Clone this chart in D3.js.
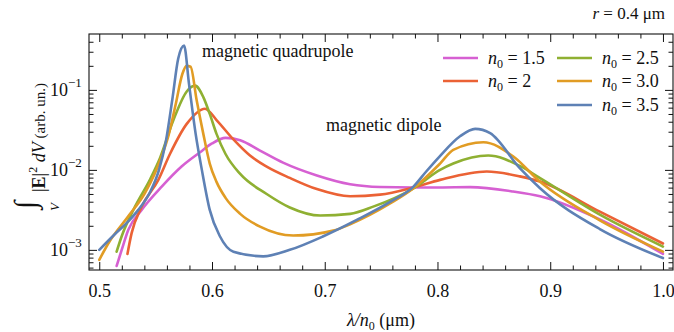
<!DOCTYPE html>
<html>
<head>
<meta charset="utf-8">
<script src="https://cdn.jsdelivr.net/npm/d3@7/dist/d3.min.js"></script>
<style>
  body { margin: 0; background: #fff; }
  text { font-family: "Liberation Serif", "Times New Roman", serif; fill: #111; }
</style>
</head>
<body>
<svg id="chart" width="674" height="332"></svg>
<script>
// values (lambda/n0 in um, integral in arb. units)
var lam15 = [0.5154, 0.5199, 0.5258, 0.5376, 0.5554, 0.573, 0.5894, 0.600, 0.612, 0.625, 0.6426, 0.663, 0.693, 0.7225, 0.749, 0.7787, 0.8023, 0.829, 0.867, 0.891, 0.944, 1.0];
var val15 = [0.00063, 0.0010, 0.00178, 0.00316, 0.00617, 0.011, 0.0166, 0.0214, 0.0251, 0.0234, 0.0174, 0.0123, 0.0085, 0.0066, 0.0061, 0.00603, 0.00603, 0.00608, 0.00537, 0.00468, 0.0024, 0.00089];

var lam20 = [0.525, 0.5287, 0.5376, 0.5524, 0.5627, 0.5776, 0.5938, 0.6042, 0.619, 0.6337, 0.6485, 0.669, 0.693, 0.7225, 0.749, 0.7787, 0.8023, 0.8437, 0.873, 0.891, 0.944, 1.0];
var val20 = [0.00089, 0.00162, 0.00347, 0.0075, 0.0158, 0.0376, 0.0582, 0.0417, 0.024, 0.0151, 0.011, 0.00794, 0.00575, 0.00468, 0.0049, 0.00603, 0.0075, 0.00955, 0.0083, 0.00715, 0.0030, 0.0012];

var lam25 = [0.5154, 0.5199, 0.5317, 0.545, 0.5539, 0.5657, 0.5776, 0.585, 0.5923, 0.598, 0.604, 0.612, 0.625, 0.6485, 0.669, 0.696, 0.7225, 0.743, 0.7787, 0.8023, 0.814, 0.845, 0.873, 0.891, 0.944, 1.0];
var val25 = [0.00095, 0.00148, 0.00347, 0.00759, 0.0141, 0.0417, 0.0955, 0.113, 0.0813, 0.0501, 0.0282, 0.0158, 0.0089, 0.0050, 0.00339, 0.00269, 0.00282, 0.00347, 0.00589, 0.0100, 0.0120, 0.0151, 0.0112, 0.0079, 0.00275, 0.0011];

var lam30 = [0.5, 0.508, 0.5257, 0.5405, 0.5554, 0.5618, 0.5678, 0.5737, 0.5775, 0.581, 0.5864, 0.5923, 0.598, 0.604, 0.612, 0.625, 0.6426, 0.672, 0.7076, 0.7225, 0.758, 0.7787, 0.8023, 0.814, 0.8407, 0.867, 0.891, 0.944, 1.0];
var val30 = [0.00075, 0.0012, 0.00263, 0.00513, 0.0148, 0.0282, 0.0661, 0.158, 0.20, 0.195, 0.0741, 0.0282, 0.012, 0.00708, 0.00447, 0.00282, 0.00195, 0.00151, 0.00174, 0.00209, 0.0038, 0.00589, 0.0120, 0.0178, 0.0222, 0.0148, 0.0071, 0.00234, 0.00095];

var lam35 = [0.5, 0.514, 0.526, 0.5346, 0.545, 0.553, 0.559, 0.5648, 0.570, 0.5752, 0.5796, 0.5855, 0.591, 0.598, 0.607, 0.619, 0.6454, 0.669, 0.6988, 0.7284, 0.758, 0.7787, 0.79, 0.802, 0.82, 0.8334, 0.8467, 0.873, 0.891, 0.944, 1.0];
var val35 = [0.0010, 0.00158, 0.00229, 0.00316, 0.00525, 0.0100, 0.0224, 0.0759, 0.245, 0.358, 0.119, 0.0282, 0.0100, 0.00316, 0.00148, 0.00095, 0.00083, 0.0010, 0.00148, 0.00237, 0.00398, 0.00617, 0.00955, 0.0148, 0.0263, 0.0326, 0.0288, 0.0105, 0.00589, 0.00182, 0.00079];

var seriesNames = ["1.5", "2", "2.5", "3.0", "3.5"];
var seriesColors = ["#d660d2", "#eb6235", "#8fb032", "#e19c24", "#5e81b5"];
var seriesLam = [lam15, lam20, lam25, lam30, lam35];
var seriesVal = [val15, val20, val25, val30, val35];

var xMajor = [0.5, 0.6, 0.7, 0.8, 0.9, 1.0];
var xTickLabels = ["0.5", "0.6", "0.7", "0.8", "0.9", "1.0"];
var yMajor = [1e-3, 1e-2, 1e-1];
var yTickExp = ["\u22123", "\u22122", "\u22121"];

var svg = d3.select('#chart');
var L = 89, T = 34, R = 673, B = 270;

var x = d3.scaleLinear().domain([0.4909, 1.0089]).range([L, R]);
var y = d3.scaleLog().domain([5.6e-4, 0.5]).range([B, T]);

// minor ticks
var xMinor = d3.range(0.5, 1.0001, 0.02).filter(function(v) {
  return Math.abs(v*10 - Math.round(v*10)) > 1e-6;
});
var yMinor = [];
[1e-4, 1e-3, 1e-2, 1e-1].forEach(function(p) {
  for (var k = 2; k <= 9; k++) {
    var v = p*k;
    if (v > 5.6e-4 && v < 0.5) yMinor.push(v);
  }
});

function strip(g) {
  g.select('.domain').remove();
  g.selectAll('line').attr('stroke', '#111');
}

// bottom / top ticks
svg.append('g').attr('transform', 'translate(0,' + B + ')')
  .call(d3.axisBottom(x).tickValues(xMajor).tickSize(-8).tickPadding(14)
    .tickFormat(function(d, i) { return xTickLabels[i]; }))
  .call(strip)
  .selectAll('text').attr('font-size', 18).attr('fill', '#111')
    .style('font-family', '"Liberation Serif", serif');
svg.append('g').attr('transform', 'translate(0,' + B + ')')
  .call(d3.axisBottom(x).tickValues(xMinor).tickSize(-4.5).tickFormat(''))
  .call(strip);
svg.append('g').attr('transform', 'translate(0,' + T + ')')
  .call(d3.axisTop(x).tickValues(xMajor).tickSize(-8).tickFormat(''))
  .call(strip);
svg.append('g').attr('transform', 'translate(0,' + T + ')')
  .call(d3.axisTop(x).tickValues(xMinor).tickSize(-4.5).tickFormat(''))
  .call(strip);

// left / right ticks
svg.append('g').attr('transform', 'translate(' + L + ',0)')
  .call(d3.axisLeft(y).tickValues(yMajor).tickSize(-8).tickFormat(''))
  .call(strip);
svg.append('g').attr('transform', 'translate(' + L + ',0)')
  .call(d3.axisLeft(y).tickValues(yMinor).tickSize(-4.5).tickFormat(''))
  .call(strip);
svg.append('g').attr('transform', 'translate(' + R + ',0)')
  .call(d3.axisRight(y).tickValues(yMajor).tickSize(-8).tickFormat(''))
  .call(strip);
svg.append('g').attr('transform', 'translate(' + R + ',0)')
  .call(d3.axisRight(y).tickValues(yMinor).tickSize(-4.5).tickFormat(''))
  .call(strip);

// y tick labels 10^n
yMajor.forEach(function(v, i) {
  svg.append('text')
    .attr('x', 68).attr('y', y(v) + 6)
    .attr('text-anchor', 'end')
    .attr('font-size', 18)
    .text('10');
  svg.append('text')
    .attr('x', 68).attr('y', y(v) - 3)
    .attr('font-size', 13)
    .text(yTickExp[i]);
});

// frame
svg.append('rect')
  .attr('x', L).attr('y', T).attr('width', R - L).attr('height', B - T)
  .attr('fill', 'none').attr('stroke', '#111').attr('stroke-width', 1.1);

// curves
svg.append('clipPath').attr('id', 'plotclip')
  .append('rect').attr('x', L).attr('y', T).attr('width', R - L).attr('height', B - T);

var line = d3.line()
  .x(function(d) { return x(d[0]); })
  .y(function(d) { return y(d[1]); })
  .curve(d3.curveMonotoneX);

var curves = svg.append('g').attr('clip-path', 'url(#plotclip)');
seriesNames.forEach(function(name, i) {
  var pts = seriesLam[i].map(function(l, j) { return [l, seriesVal[i][j]]; });
  curves.append('path')
    .datum(pts)
    .attr('d', line)
    .attr('fill', 'none')
    .attr('stroke', seriesColors[i])
    .attr('stroke-width', 2.6)
    .attr('stroke-linejoin', 'round')
    .attr('stroke-linecap', 'round');
});

// annotations
svg.append('text').attr('x', 202).attr('y', 57).attr('font-size', 18).text('magnetic quadrupole');
svg.append('text').attr('x', 326).attr('y', 131).attr('font-size', 18).text('magnetic dipole');

// r label
var rl = svg.append('text').attr('x', 665).attr('y', 19).attr('text-anchor', 'end').attr('font-size', 17);
rl.append('tspan').attr('font-style', 'italic').text('r');
rl.append('tspan').text(' = 0.4 \u03bcm');

// legend
var legPos = [[443, 58], [443, 81], [557, 58], [557, 81], [557, 105]];
seriesNames.forEach(function(name, i) {
  var p = legPos[i];
  svg.append('line')
    .attr('x1', p[0]).attr('x2', p[0] + 35)
    .attr('y1', p[1]).attr('y2', p[1])
    .attr('stroke', seriesColors[i]).attr('stroke-width', 2.6);
  var t = svg.append('text').attr('x', p[0] + 45).attr('y', p[1] + 6).attr('font-size', 18);
  t.append('tspan').attr('font-style', 'italic').text('n');
  t.append('tspan').attr('font-size', 12).attr('dy', 4).text('0');
  t.append('tspan').attr('dy', -4).text(' = ' + name);
});

// x axis label
var xl = svg.append('text').attr('x', 381).attr('y', 326).attr('text-anchor', 'middle').attr('font-size', 18);
xl.append('tspan').attr('font-style', 'italic').text('\u03bb/n');
xl.append('tspan').attr('font-size', 12).attr('dy', 4).text('0');
xl.append('tspan').attr('dy', -4).text(' (\u03bcm)');

// y axis label (rotated)
var yl = svg.append('g').attr('transform', 'translate(45,0) rotate(-90)');
yl.append('text').attr('x', -205).attr('y', -10).attr('text-anchor', 'middle')
  .attr('font-size', 30).text('\u222b');
yl.append('text').attr('x', -207).attr('y', 14).attr('text-anchor', 'middle')
  .attr('font-size', 13).attr('font-style', 'italic').text('V');
var ym = yl.append('text').attr('x', -192).attr('y', 0).attr('font-size', 18);
ym.append('tspan').text('|');
ym.append('tspan').attr('font-weight', 'bold').text('E');
ym.append('tspan').text('|');
ym.append('tspan').attr('font-size', 12).attr('dy', -8).text('2');
ym.append('tspan').attr('dy', 8).attr('font-style', 'italic').text(' dV');
ym.append('tspan').attr('font-size', 15).text(' (arb. un.)');
</script>
</body>
</html>
